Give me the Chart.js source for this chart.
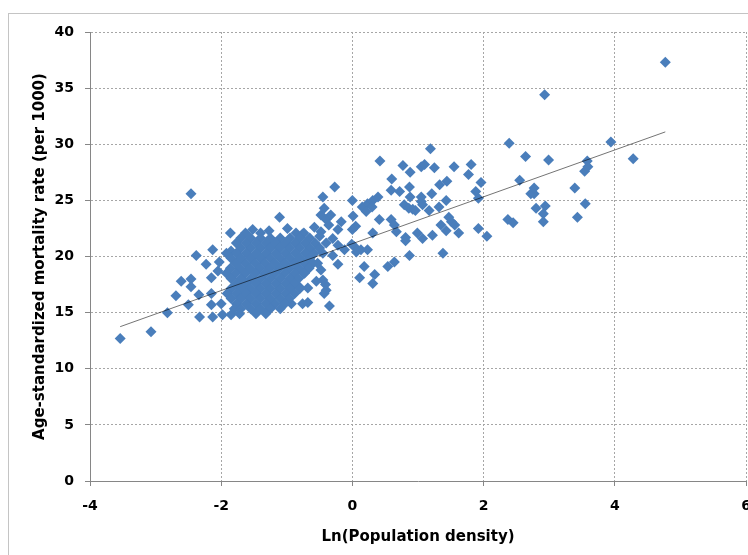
<!DOCTYPE html>
<html>
<head>
<meta charset="utf-8">
<script src="https://cdn.jsdelivr.net/npm/chart.js@4/dist/chart.umd.min.js"></script>
<style>
    html, body { margin: 0; padding: 0; background: #fff; overflow: hidden; }
    #wrap { position: relative; width: 748px; height: 555px; overflow: hidden; }
    #frame { position: absolute; left: 8px; top: 13px; width: 800px; height: 600px; border: 1px solid #c4c4c4; }
    canvas { position: absolute; left: 0; top: 0; }
</style>
</head>
<body>
<div id="wrap">
    <div id="frame"></div>
    <canvas id="scatterChart" width="790" height="555"></canvas>
</div>
<script>
// axis ticks
const xTicks = [-4, -2, 0, 2, 4, 6];
const yTicks = [0, 5, 10, 15, 20, 25, 30, 35, 40];

// [ln(population density), age-standardized mortality rate]
const outerPoints = [
    [-3.54, 12.7], [-3.07, 13.3], [-2.82, 15.0], [-2.69, 16.5], [-2.61, 17.8], [-2.50, 15.7],
    [-2.46, 18.0], [-2.46, 17.3], [-2.46, 25.6], [-2.38, 20.1], [-2.34, 16.6], [-2.33, 14.6],
    [-2.23, 19.3], [-2.15, 16.7], [-2.15, 18.1], [-2.15, 15.7], [-2.13, 20.6], [-2.13, 14.6],
    [-2.05, 18.7], [-2.03, 19.5], [-2.00, 15.8], [-1.98, 14.8], [-1.85, 14.8], [-1.85, 20.5],
    [-1.11, 23.5], [-0.99, 22.5], [-0.76, 22.0], [-0.58, 22.6], [-0.48, 23.7], [-0.45, 25.3],
    [-0.43, 24.3], [-0.40, 23.3], [-0.36, 22.8], [-0.48, 22.2], [-0.22, 22.4], [-0.17, 23.1],
    [-0.27, 26.2], [-0.33, 23.7], [-0.50, 21.8], [-0.40, 21.2], [-0.30, 21.6], [-0.22, 21.0],
    [-0.12, 20.6], [0.03, 20.9], [0.06, 20.4], [0.13, 20.6], [0.23, 20.6], [-0.45, 20.3],
    [-0.30, 20.1], [-0.22, 19.3], [-0.53, 19.4], [-0.48, 18.8], [-0.45, 17.9], [-0.40, 17.0],
    [-0.43, 16.7], [-0.41, 17.5], [-0.55, 17.8], [-0.73, 18.5], [-0.81, 17.3], [-0.68, 17.2],
    [-0.76, 15.8], [-0.68, 15.9], [-0.35, 15.6], [-0.93, 15.8],
    [0.00, 25.0], [0.01, 23.6], [0.05, 22.7], [0.00, 22.4], [-0.01, 21.1], [0.11, 18.1],
    [0.18, 19.1], [0.15, 24.4], [0.23, 24.7], [0.31, 25.0], [0.39, 25.3], [0.30, 24.4],
    [0.21, 24.0], [0.31, 22.1], [0.34, 18.4], [0.31, 17.6], [0.42, 28.5], [0.41, 23.3],
    [0.54, 19.1], [0.64, 19.5], [0.59, 23.3], [0.64, 22.8], [0.67, 22.2], [0.59, 25.9],
    [0.72, 25.8], [0.60, 26.9], [0.77, 28.1], [0.88, 27.5], [0.87, 26.2], [0.79, 24.6],
    [0.86, 24.3], [0.92, 24.2], [0.96, 24.1], [0.88, 25.3], [0.81, 21.7], [0.81, 21.4],
    [0.87, 20.1], [0.99, 22.1], [1.07, 21.6], [1.22, 21.9], [1.05, 28.0], [1.10, 28.2],
    [1.25, 27.9], [1.19, 29.6], [1.55, 28.0], [1.81, 28.2], [1.77, 27.3], [1.33, 26.4],
    [1.44, 26.7], [1.96, 26.6], [1.21, 25.6], [1.05, 25.3], [1.43, 25.0], [1.88, 25.8],
    [1.92, 25.2], [1.05, 24.9], [1.07, 24.6], [1.17, 24.1], [1.32, 24.4], [1.47, 23.5],
    [1.51, 23.1], [1.56, 22.8], [1.62, 22.1], [1.35, 22.8], [1.43, 22.3], [1.92, 22.5],
    [2.05, 21.8], [1.38, 20.3],
    [2.39, 30.1], [2.37, 23.3], [2.45, 23.0], [2.55, 26.8], [2.64, 28.9], [2.72, 25.6],
    [2.77, 25.6], [2.77, 26.1], [2.80, 24.3], [2.93, 34.4], [2.94, 24.5], [2.91, 23.8],
    [2.91, 23.1], [2.99, 28.6], [3.39, 26.1], [3.43, 23.5], [3.54, 27.6], [3.58, 28.5],
    [3.59, 28.0], [3.55, 24.7], [3.94, 30.2], [4.28, 28.7], [4.77, 37.3]
];

// dense core of rural districts (overlapping markers)
const clusterPoints = [
    [-1.86, 22.1], [-1.63, 22.1], [-1.52, 22.4], [-1.40, 22.1], [-1.27, 22.3], [-0.86, 22.1], [-0.74, 22.1],
    [-1.70, 21.65], [-1.55, 21.65], [-1.40, 21.65], [-1.25, 21.65], [-1.10, 21.65],
    [-0.95, 21.65], [-0.80, 21.65], [-0.65, 21.65],
    [-1.77, 21.2], [-1.62, 21.2], [-1.47, 21.2], [-1.32, 21.2], [-1.17, 21.2],
    [-1.02, 21.2], [-0.87, 21.2], [-0.72, 21.2], [-0.57, 21.2],
    [-1.70, 20.75], [-1.55, 20.75], [-1.40, 20.75], [-1.25, 20.75], [-1.10, 20.75],
    [-0.95, 20.75], [-0.80, 20.75], [-0.65, 20.75], [-0.50, 20.75],
    [-1.92, 20.3], [-1.77, 20.3], [-1.62, 20.3], [-1.47, 20.3], [-1.32, 20.3], [-1.17, 20.3],
    [-1.02, 20.3], [-0.87, 20.3], [-0.72, 20.3], [-0.58, 20.3],
    [-1.85, 19.85], [-1.70, 19.85], [-1.55, 19.85], [-1.40, 19.85], [-1.25, 19.85], [-1.10, 19.85],
    [-0.95, 19.85], [-0.80, 19.85], [-0.65, 19.85],
    [-1.78, 19.4], [-1.63, 19.4], [-1.48, 19.4], [-1.33, 19.4], [-1.18, 19.4],
    [-1.03, 19.4], [-0.88, 19.4], [-0.73, 19.4], [-0.60, 19.4],
    [-1.86, 18.95], [-1.71, 18.95], [-1.56, 18.95], [-1.41, 18.95], [-1.26, 18.95], [-1.11, 18.95],
    [-0.96, 18.95], [-0.81, 18.95], [-0.66, 18.95],
    [-1.92, 18.5], [-1.78, 18.5], [-1.63, 18.5], [-1.48, 18.5], [-1.33, 18.5], [-1.18, 18.5],
    [-1.03, 18.5], [-0.88, 18.5], [-0.74, 18.5],
    [-1.85, 18.05], [-1.70, 18.05], [-1.55, 18.05], [-1.40, 18.05], [-1.25, 18.05], [-1.10, 18.05],
    [-0.95, 18.05], [-0.82, 18.05],
    [-1.77, 17.6], [-1.62, 17.6], [-1.47, 17.6], [-1.32, 17.6], [-1.17, 17.6],
    [-1.02, 17.6], [-0.88, 17.6],
    [-1.85, 17.15], [-1.70, 17.15], [-1.55, 17.15], [-1.40, 17.15], [-1.25, 17.15], [-1.10, 17.15],
    [-0.95, 17.15], [-0.80, 17.15],
    [-1.91, 16.7], [-1.77, 16.7], [-1.62, 16.7], [-1.47, 16.7], [-1.32, 16.7], [-1.17, 16.7],
    [-1.02, 16.7], [-0.88, 16.7],
    [-1.85, 16.25], [-1.70, 16.25], [-1.55, 16.25], [-1.40, 16.25], [-1.25, 16.25],
    [-1.10, 16.25], [-0.96, 16.25],
    [-1.77, 15.8], [-1.62, 15.8], [-1.47, 15.8], [-1.32, 15.8], [-1.18, 15.8],
    [-1.03, 15.8],
    [-1.80, 15.35], [-1.70, 15.35], [-1.55, 15.35], [-1.40, 15.35], [-1.25, 15.35], [-1.10, 15.35],
    [-1.72, 14.9], [-1.47, 14.9], [-1.32, 14.9]
];

// fitted linear trend, end points
const trendX = [-3.54, 4.77];
const trendY = [13.75, 31.1];

const toXY = (pairs) => pairs.map(([x, y]) => ({ x, y }));

const fontFamily = "'DejaVu Sans', sans-serif";
const gridColor = '#a6a6a6';
const axisColor = '#868686';
const markerColor = '#4a7ebb';
const trendColor = 'rgba(0, 0, 0, 0.55)';

// the trend line sits over the markers, as in the original
const trendOnTop = {
    id: 'trendOnTop',
    afterDatasetsDraw(chart) {
        const pts = chart.getDatasetMeta(0).data;
        if (pts.length < 2) return;
        const c = chart.ctx;
        c.save();
        c.strokeStyle = trendColor;
        c.lineWidth = 1;
        c.beginPath();
        c.moveTo(pts[0].x, pts[0].y);
        c.lineTo(pts[1].x, pts[1].y);
        c.stroke();
        c.restore();
    }
};

const ctx = document.getElementById('scatterChart').getContext('2d');

new Chart(ctx, {
    type: 'scatter',
    data: {
        datasets: [
            {
                label: 'Linear trend',
                data: trendX.map((x, i) => ({ x, y: trendY[i] })),
                showLine: false,
                pointRadius: 0
            },
            {
                label: 'Districts',
                data: toXY(outerPoints.concat(clusterPoints)),
                pointStyle: 'rectRot',
                pointRadius: 5.5,
                backgroundColor: markerColor,
                borderColor: markerColor,
                borderWidth: 0
            }
        ]
    },
    options: {
        responsive: false,
        animation: false,
        events: [],
        layout: {
            padding: { left: 0, top: 32, right: 44, bottom: 0 }
        },
        plugins: {
            legend: { display: false },
            tooltip: { enabled: false }
        },
        scales: {
            x: {
                type: 'linear',
                min: xTicks[0],
                max: xTicks[xTicks.length - 1],
                afterBuildTicks: (scale) => { scale.ticks = xTicks.map(v => ({ value: v })); },
                afterFit: (scale) => { scale.height = 74; },
                grid: {
                    color: gridColor,
                    lineWidth: 1,
                    tickLength: 5,
                    tickColor: axisColor,
                    tickBorderDash: []
                },
                border: { display: true, color: axisColor, width: 1, dash: [2, 2] },
                ticks: {
                    color: '#000',
                    padding: 12,
                    maxRotation: 0,
                    font: { family: fontFamily, size: 14, weight: 'bold' }
                },
                title: {
                    display: true,
                    text: 'Ln(Population density)',
                    color: '#000',
                    padding: { top: 0, bottom: 9 },
                    font: { family: fontFamily, size: 15, weight: 'bold' }
                }
            },
            y: {
                type: 'linear',
                min: yTicks[0],
                max: yTicks[yTicks.length - 1],
                afterBuildTicks: (scale) => { scale.ticks = yTicks.map(v => ({ value: v })); },
                afterFit: (scale) => { scale.width = 90; },
                grid: {
                    color: gridColor,
                    lineWidth: 1,
                    tickLength: 5,
                    tickColor: axisColor,
                    tickBorderDash: []
                },
                border: { display: true, color: axisColor, width: 1, dash: [2, 2] },
                ticks: {
                    color: '#000',
                    padding: 11,
                    font: { family: fontFamily, size: 14, weight: 'bold' }
                },
                title: {
                    display: true,
                    text: 'Age-standardized mortality rate (per 1000)',
                    color: '#000',
                    padding: { top: 31, bottom: 0 },
                    font: { family: fontFamily, size: 15, weight: 'bold' }
                }
            }
        }
    },
    plugins: [trendOnTop]
});
</script>
</body>
</html>
